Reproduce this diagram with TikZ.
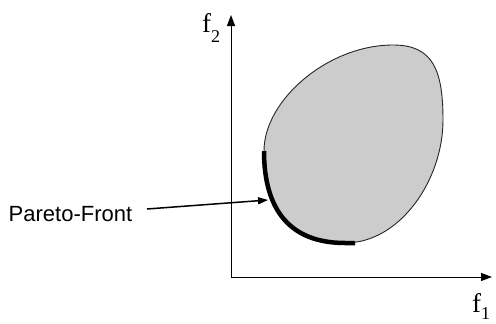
\documentclass[tikz,border=0pt]{standalone}
\usepackage{fontspec}
\newfontfamily\sansf{Liberation Sans}
\newfontfamily\serf{Liberation Serif}
\usetikzlibrary{arrows.meta}
\definecolor{blobgray}{RGB}{204,204,204}
\tikzset{
  axis/.style={line width=1pt, -{Triangle[length=11pt,width=8pt]}},
  outline/.style={line width=0.9pt, draw=black!85, fill=blobgray},
  front/.style={line width=4.5pt, line cap=butt},
  pointer/.style={line width=1.5pt, -{Triangle[length=10pt,width=7pt]}},
  lbl/.style={inner sep=0pt, anchor=base west}
}
\begin{document}
\begin{tikzpicture}[x=1pt,y=-1pt]
\useasboundingbox (0,0) rectangle (496,324);
% axes
\coordinate (O) at (231,277);
\coordinate (ytop) at (231,15);
\coordinate (xend) at (492,277);
\draw[axis] (O) -- (ytop);
\draw[axis] (O) -- (xend);
% feasible region
\coordinate (L) at (264,151);
\coordinate (T) at (393,45);
\coordinate (R) at (443,120);
\coordinate (B) at (345,243);
\coordinate (Fend) at (355,243);
\draw[outline] (L) .. controls (264,100) and (328,45) .. (T)
  .. controls (433,45) and (443,70) .. (R)
  .. controls (443,180) and (400,243) .. (B)
  .. controls (290,243) and (264,210) .. cycle;
% pareto front
\draw[front] (L) .. controls (264,210) and (290,243) .. (B) -- (Fend);
% labels
\node[lbl] (f2) at (202,32) {\serf\fontsize{27}{27}\selectfont f\raisebox{-10pt}{\fontsize{18}{18}\selectfont 2}};
\node[lbl] (f1) at (472,312) {\serf\fontsize{27}{27}\selectfont f\raisebox{-7pt}{\fontsize{18}{18}\selectfont 1}};
\node[lbl] (pf) at (8.5,221) {\sansf\fontsize{22}{22}\selectfont Pareto-Front};
\coordinate (as) at (147,209);
\coordinate (ae) at (268,200);
\draw[pointer] (as) -- (ae);
\end{tikzpicture}
\end{document}
